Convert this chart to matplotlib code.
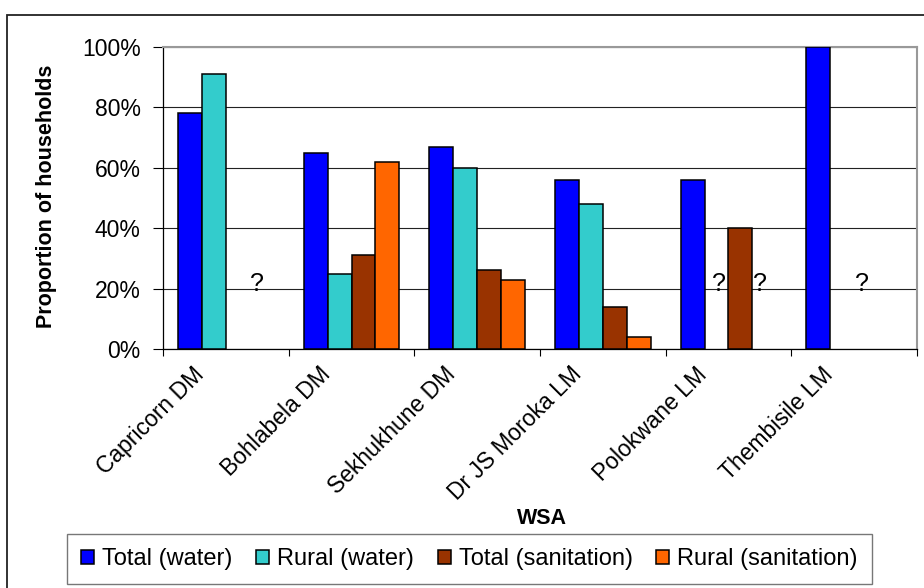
import numpy as np
import matplotlib
matplotlib.use("Agg")
from matplotlib import pyplot as plt
from matplotlib.patches import Rectangle
from matplotlib.transforms import ScaledTranslation

plt.rcParams['font.family'] = ['Liberation Sans', 'DejaVu Sans']

wsa = ["Capricorn DM", "Bohlabela DM", "Sekhukhune DM", "Dr JS Moroka LM", "Polokwane LM", "Thembisile LM"]
total_water = [78, 65, 67, 56, 56, 100]
rural_water = [91, 25, 60, 48, np.nan, np.nan]
total_san = [np.nan, 31, 26, 14, 40, np.nan]
rural_san = [np.nan, 62, 23, 4, np.nan, np.nan]
series_names = ["Total (water)", "Rural (water)", "Total (sanitation)", "Rural (sanitation)"]
yticks = [0, 20, 40, 60, 80, 100]
ytick_labels = ["0%", "20%", "40%", "60%", "80%", "100%"]
# "?" marks for unknown values: category index, shift inside the group
q_cat = [0, 4, 4, 5]
q_dx = [0.25, -0.08, 0.25, 0.06]
q_y = 21.5

colors = ["#0000FF", "#33CCCC", "#993300", "#FF6600"]
W, H = 924, 588
fig = plt.figure(figsize=(W / 100, H / 100), dpi=100)
ax = fig.add_axes([163 / W, 1 - 349 / H, (917 - 163) / W, (349 - 47) / H])

x = np.arange(len(wsa))
bw = 0.19
all_series = [total_water, rural_water, total_san, rural_san]
for j, vals in enumerate(all_series):
  ax.bar(x + (j - 1.5) * bw, vals, bw, color=colors[j], edgecolor="black",
         linewidth=1.1, label=series_names[j], zorder=3)

for c, dx in zip(q_cat, q_dx):
  ax.text(c + dx, q_y, "?", ha="center", va="center", fontsize=18, zorder=4)

ax.set_xlim(-0.5, len(wsa) - 0.5)
ax.set_ylim(0, 100)
ax.set_yticks(yticks)
ax.set_yticklabels(ytick_labels, fontsize=16.5)
ax.yaxis.grid(True, color="#222222", linewidth=0.8, zorder=0)
ax.tick_params(axis="y", length=7, width=0.8, pad=9)

ax.set_xticks(x)
ax.set_xticklabels(wsa, fontsize=16.5, rotation=45, ha="right", va="center", rotation_mode="anchor")
ax.set_xticks(np.arange(-0.5, len(wsa)), minor=True)
ax.tick_params(axis="x", which="major", length=0, pad=0)
ax.tick_params(axis="x", which="minor", length=5, width=0.8)
offset = ScaledTranslation(-0.25, -0.22, fig.dpi_scale_trans)
for lbl in ax.get_xticklabels():
  lbl.set_transform(lbl.get_transform() + offset)

ax.spines["left"].set_linewidth(0.9)
ax.spines["bottom"].set_linewidth(0.9)
ax.spines["top"].set_color("#999999")
ax.spines["right"].set_color("#999999")
ax.spines["top"].set_linewidth(1.5)
ax.spines["right"].set_linewidth(1.5)

fig.text(47 / W, 1 - 196 / H, "Proportion of households", rotation=90, ha="center", va="center",
         fontsize=15.5, fontweight="bold")
fig.text(542 / W, 1 - 519 / H, "WSA", ha="center", va="center", fontsize=15.5, fontweight="bold")

leg = fig.legend(loc="center", bbox_to_anchor=(67 / W, 1 - 587 / H, (872 - 67) / W, (587 - 531) / H),
                 bbox_transform=fig.transFigure, mode="expand", ncol=4, fontsize=17,
                 frameon=True, fancybox=False, borderaxespad=0, borderpad=0.6,
                 handlelength=0.55, handleheight=0.55, handletextpad=0.35, columnspacing=0.5)
leg.get_frame().set_edgecolor("#555555")
leg.get_frame().set_linewidth(1.0)

fig.patches.append(Rectangle((7 / W, -0.1), 1.2, 1.1 - 15 / H, transform=fig.transFigure,
                             fill=False, edgecolor="#222222", linewidth=1.3))

fig.savefig("out.png", dpi=100)
